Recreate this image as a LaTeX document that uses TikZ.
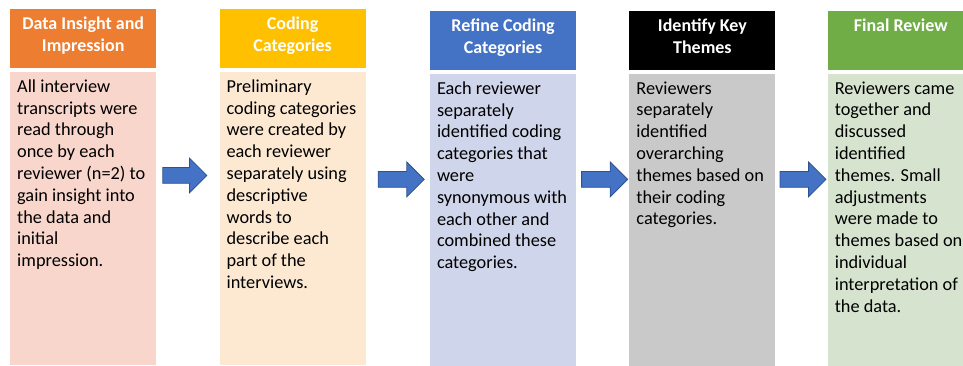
\documentclass[tikz,border=0pt]{standalone}
\usepackage{fontspec}
\setmainfont{Carlito}
\usetikzlibrary{positioning,calc,shapes.arrows}
\definecolor{orng}{HTML}{ED7D31}
\definecolor{orngl}{HTML}{F8D6CC}
\definecolor{gold}{HTML}{FFC000}
\definecolor{goldl}{HTML}{FDE9D2}
\definecolor{blu}{HTML}{4472C4}
\definecolor{blul}{HTML}{CFD5EA}
\definecolor{gryl}{HTML}{C9C9C9}
\definecolor{grn}{HTML}{70AD47}
\definecolor{grnl}{HTML}{D6E4CF}
\definecolor{arrline}{HTML}{2F528F}
% fixed-size boxes with their text set from the top
\newcommand{\headpar}[1]{\parbox[c][59pt][t]{146pt}{\centering\vspace*{7.5pt}#1}}
\newcommand{\bodypar}[1]{\parbox[c][293pt][t]{146pt}{\raggedright\leftskip=7pt\vspace*{8pt}#1}}
\tikzset{
  headbox/.style={inner sep=0pt,text=white,font=\bfseries\fontsize{18}{22}\selectfont},
  bodybox/.style={inner sep=0pt,text=black,font=\fontsize{18.3}{21.8}\selectfont},
  flowarrow/.style={single arrow,draw=arrline,fill=blu,line width=0.8pt,inner xsep=0pt,inner ysep=7.5pt,
    minimum height=46pt,minimum width=34pt,single arrow head extend=9.5pt,single arrow head indent=0pt,anchor=west},
}

\begin{document}
\begin{tikzpicture}
  \useasboundingbox (0,0) rectangle (963pt,-366pt);
  % column headers
  \node[headbox,fill=orng,anchor=north west] (h1) at (10pt,-9pt) {\headpar{Data Insight and\\Impression}};
  \node[headbox,fill=gold,right=63pt of h1] (h2) {\headpar{Coding\\Categories}};
  \node[headbox,fill=blu,right=64pt of h2,yshift=-2pt] (h3) {\headpar{Refine Coding\\Categories}};
  \node[headbox,fill=black,right=53pt of h3] (h4) {\headpar{Identify Key\\Themes}};
  \node[headbox,fill=grn,right=52pt of h4] (h5) {\headpar{Final Review}};
  % column bodies
  \node[bodybox,fill=orngl,below=3pt of h1] (b1) {\bodypar{All interview\\transcripts were\\read through\\once by each\\reviewer (n=2) to\\gain insight into\\the data and\\initial\\impression.}};
  \node[bodybox,fill=goldl,below=3pt of h2] (b2) {\bodypar{Preliminary\\coding categories\\were created by\\each reviewer\\separately using\\descriptive\\words to\\describe each\\part of the\\interviews.}};
  \node[bodybox,fill=blul,below=3pt of h3] (b3) {\bodypar{Each reviewer\\separately\\identified coding\\categories that\\were\\synonymous with\\each other and\\combined these\\categories.}};
  \node[bodybox,fill=gryl,below=3pt of h4] (b4) {\bodypar{Reviewers\\separately\\identified\\overarching\\themes based on\\their coding\\categories.}};
  \node[bodybox,fill=grnl,below=3pt of h5] (b5) {\bodypar{Reviewers came\\together and\\discussed\\identified\\themes. Small\\adjustments\\were made to\\themes based on\\individual\\interpretation of\\the data.}};
  % block arrows between the columns
  \node[flowarrow,minimum height=44pt] (a1) at ($(b1.north east)+(6pt,-104pt)$) {};
  \node[flowarrow] (a2) at ($(b2.north east)+(12pt,-108pt)$) {};
  \node[flowarrow] (a3) at ($(b3.north east)+(5pt,-106pt)$) {};
  \node[flowarrow] (a4) at ($(b4.north east)+(4pt,-106pt)$) {};
\end{tikzpicture}
\end{document}
